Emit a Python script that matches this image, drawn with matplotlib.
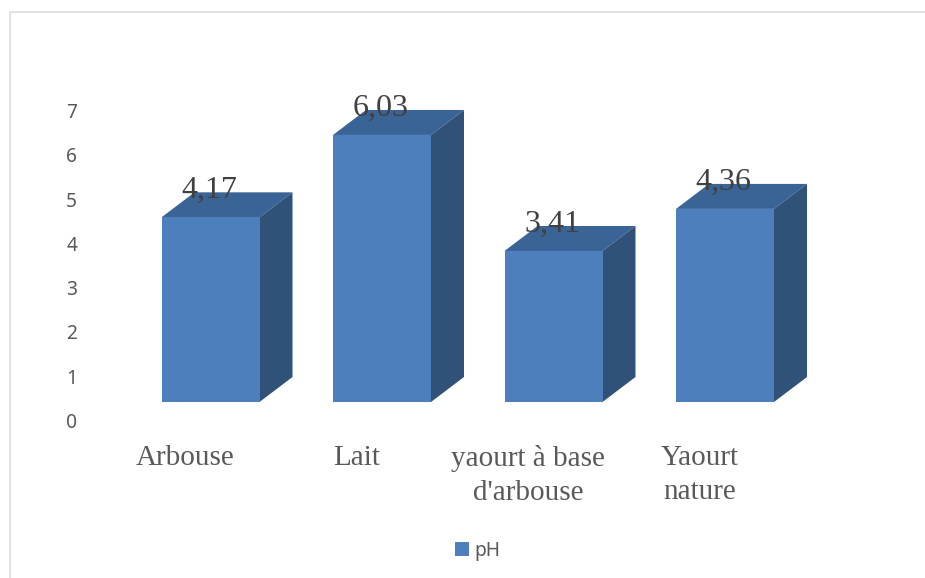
import matplotlib
matplotlib.use("Agg")
import matplotlib.pyplot as plt
from matplotlib.lines import Line2D
from matplotlib.patches import Patch
from matplotlib.transforms import ScaledTranslation

categories = ["Arbouse", "Lait", "yaourt à base\nd'arbouse", "Yaourt\nnature"]
values = [4.17, 6.03, 3.41, 4.36]
value_labels = ["4,17", "6,03", "3,41", "4,36"]
y_ticks = [0, 1, 2, 3, 4, 5, 6, 7]
series_name = "pH"

W, H = 925, 578
FRONT, TOP, SIDE = "#4E7FBD", "#3B6496", "#315278"
GREY, DARK = "#595959", "#404040"

fig = plt.figure(figsize=(W / 100, H / 100), dpi=100, facecolor="white")

# plot area, in pixels of the picture
left, right, base, top = 124.75, 810.75, 402.0, 92.0
ax = fig.add_axes([left / W, 1 - base / H, (right - left) / W, (base - top) / H])
ax.set_xlim(-0.5, 3.5)
ax.set_ylim(0, 7)
ax.patch.set_visible(False)
for s in ax.spines.values():
    s.set_visible(False)

px_y = (base - top) / 7
px_x = (right - left) / 4
bar_w = 98 / px_x
dx, dy = 33 / px_x, 25 / px_y

xs = list(range(len(categories)))
ax.bar(xs, values, width=bar_w, color=FRONT, linewidth=0, zorder=3)
for x, h in zip(xs, values):
    x0, x1 = x - bar_w / 2, x + bar_w / 2
    ax.fill([x0, x1, x1 + dx, x0 + dx], [h, h, h + dy, h + dy],
            color=TOP, lw=0, zorder=2, clip_on=False)
    ax.fill([x1, x1 + dx, x1 + dx, x1], [0, dy, h + dy, h],
            color=SIDE, lw=0, zorder=2, clip_on=False)

# data labels
for x, h, lab in zip(xs, values, value_labels):
    ax.annotate(lab, (x, h), xytext=(-1.0, 27 * 0.72), textcoords="offset points",
                ha="center", va="center", family="Liberation Serif",
                fontsize=23, color=DARK, zorder=5)

# axis labels
ax.set_yticks(y_ticks)
ax.set_xticks(xs)
ax.set_xticklabels(categories, family="Liberation Serif", fontsize=21,
                   color=GREY, linespacing=1.4)
ax.tick_params(length=0)
ax.tick_params(axis="y", labelsize=13.8, labelcolor=GREY, pad=0)
for t in ax.get_yticklabels():
    t.set_family("Noto Sans")
    t.set_transform(t.get_transform() + ScaledTranslation(-47.5 / 100, -18.5 / 100, fig.dpi_scale_trans))
for t in ax.get_xticklabels():
    t.set_transform(t.get_transform() + ScaledTranslation(-25.5 / 100, -38 / 100, fig.dpi_scale_trans))

# legend
ax.legend(handles=[Patch(color=FRONT, label=series_name, linewidth=0)],
          loc="center left", bbox_to_anchor=(455 / W, 1 - 551 / H),
          bbox_transform=fig.transFigure, frameon=False,
          prop={"family": "Noto Sans", "size": 13.8}, labelcolor=GREY,
          handlelength=0.72, handleheight=0.72, handletextpad=0.3,
          borderpad=0, borderaxespad=0)

# chart frame, open at right and bottom
fig.add_artist(Line2D([10 / W, 10 / W, 1], [0, 1 - 11.5 / H, 1 - 11.5 / H],
                      color="#D9D9D9", lw=1.1, transform=fig.transFigure))

fig.savefig("out.png", dpi=100)
